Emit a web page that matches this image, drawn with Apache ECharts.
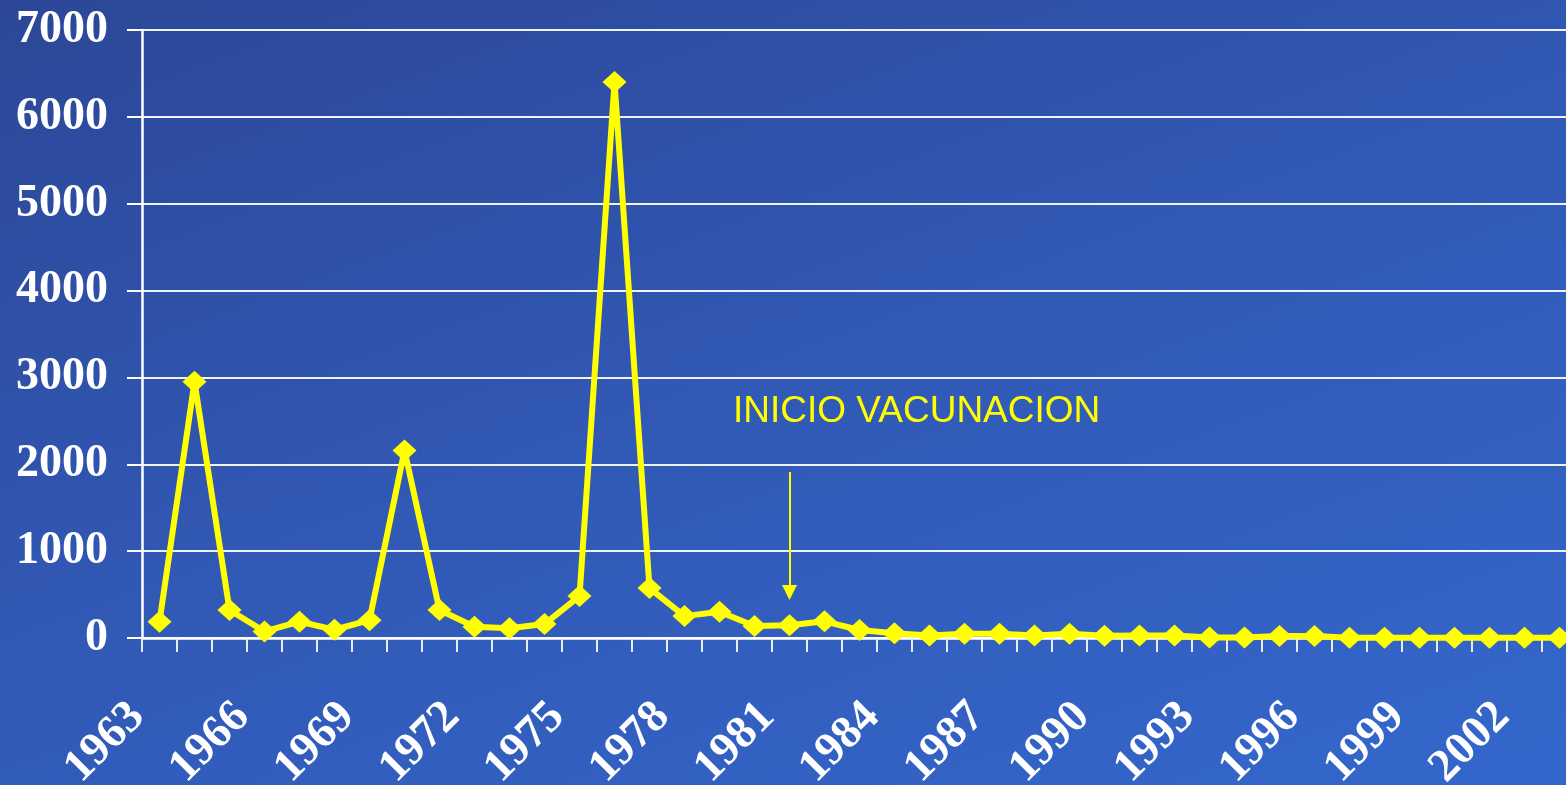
<!DOCTYPE html>
<html lang="es">
<head>
    <meta charset="UTF-8">
    <title>casos por año</title>
    <script src="https://cdn.jsdelivr.net/npm/echarts@6/dist/echarts.min.js"></script>
    <style>
        html, body { margin: 0; padding: 0; overflow: hidden; }
        #wrap {
            width: 1566px; height: 785px; overflow: hidden;
            background: linear-gradient(160deg, #2c4797 0%, #3159b6 50%, #3467cc 100%);
        }
        /* el gráfico original queda cortado por la derecha */
        #main { width: 1577px; height: 785px; }
    </style>
</head>
<body>
<div id="wrap"><div id="main"></div></div>
<script type="text/javascript">
    // años y casos
    var years = [];
    for (var y = 1963; y <= 2003; y++) { years.push(String(y)); }
    var cases = [
        188, 2950, 322, 75, 188, 95, 205, 2160, 322, 130,
        112, 160, 483, 6400, 575, 252, 302, 138, 148, 192,
        92, 55, 28, 50, 50, 28, 50, 25, 30, 30,
        6, 6, 24, 24, 2, 2, 2, 2, 2, 2,
        2
    ];
    var yTicks = [0, 1000, 2000, 3000, 4000, 5000, 6000, 7000];
    var noteText = 'INICIO VACUNACION';
    var noteYear = '1981';
    var arrowFrom = 1910, arrowTo = 525;

    var myChart = echarts.init(document.getElementById('main'));
    var serif = '"Liberation Serif", "Times New Roman", serif';

    var option = {
        animation: false,
        grid: { left: 142, right: 0, top: 30, bottom: 147, outerBoundsMode: 'none' },
        xAxis: {
            type: 'category',
            data: years,
            boundaryGap: true,
            axisLine: { lineStyle: { color: '#ffffff', width: 2.5 } },
            axisTick: {
                show: true, interval: 0, length: 14,
                lineStyle: { color: '#e8ecf8', width: 2 }
            },
            axisLabel: {
                interval: 2, rotate: 45, margin: 50,
                padding: [0, 31, 0, 0],
                color: '#ffffff', fontFamily: serif, fontWeight: 'bold', fontSize: 46
            }
        },
        yAxis: {
            type: 'value',
            min: yTicks[0], max: yTicks[yTicks.length - 1], interval: 1000,
            axisLine: { show: true, lineStyle: { color: '#ffffff', width: 2.5 } },
            axisTick: { show: true, inside: false, length: 15, lineStyle: { color: '#ffffff', width: 2 } },
            splitLine: { show: true, lineStyle: { color: '#f0f2fa', width: 2 } },
            axisLabel: {
                margin: 34, color: '#ffffff',
                fontFamily: serif, fontWeight: 'bold', fontSize: 46,
                formatter: function (v) { return String(v); }
            }
        },
        series: [{
            name: 'casos',
            type: 'line',
            data: cases,
            symbol: 'diamond',
            symbolSize: [24, 22],
            itemStyle: { color: '#ffff00' },
            lineStyle: { color: '#ffff00', width: 6 },
            clip: false,
            z: 3,
            markLine: {
                silent: true,
                symbol: ['none', 'triangle'],
                symbolSize: [15, 15],
                label: { show: false },
                lineStyle: { color: '#ffff00', width: 2, type: 'solid' },
                data: [[
                    { coord: [noteYear, arrowFrom] },
                    { coord: [noteYear, arrowTo] }
                ]]
            }
        }],
        graphic: [{
            type: 'text',
            left: 733, top: 393,
            style: {
                text: noteText,
                fill: '#ffff00',
                font: '37px "Liberation Sans", Arial, sans-serif'
            }
        }]
    };
    myChart.setOption(option);
</script>
</body>
</html>
